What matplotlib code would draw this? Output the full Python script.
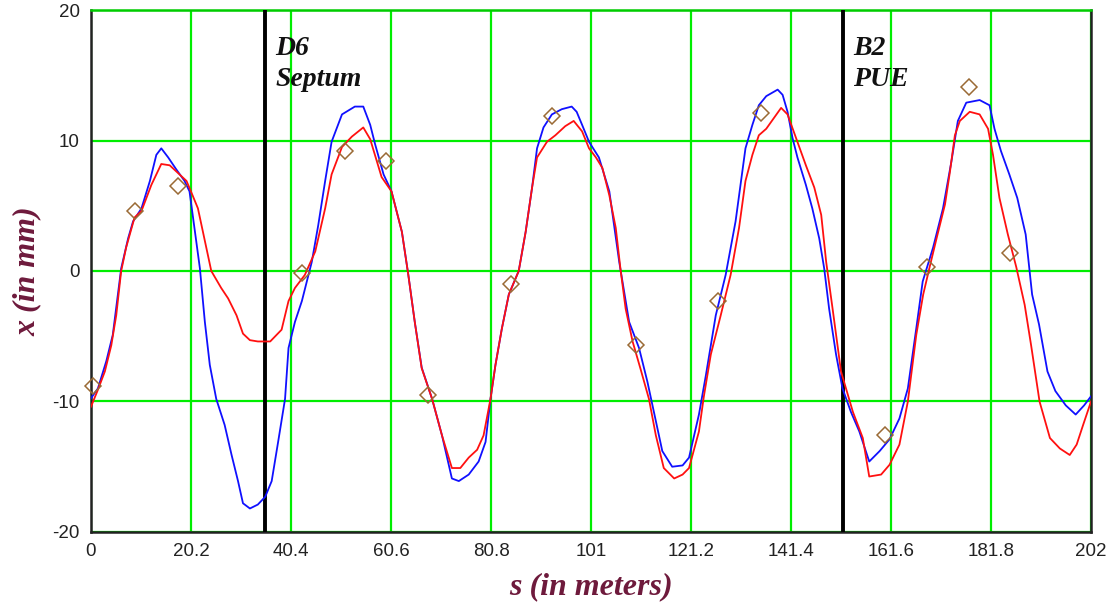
import numpy as np
import matplotlib
matplotlib.use("Agg")
import matplotlib.pyplot as plt

plt.rcParams["axes.unicode_minus"] = False

# ---- data (s in m, x in mm) ----
blue_s = [0.0, 1.4, 3.1, 4.4, 6.1, 7.5, 8.5, 10.2, 11.9, 13.2, 14.2, 15.6, 17.2, 18.9,
          19.9, 20.9, 22.0, 23.0, 24.0, 25.3, 27.0, 28.4, 29.7, 30.7, 32.1, 33.7, 35.2,
          36.5, 37.8, 39.2, 39.9, 41.2, 42.6, 44.6, 45.9, 47.3, 48.6, 50.7, 53.3, 55.0,
          56.4, 57.4, 59.1, 60.7, 62.8, 64.1, 65.4, 66.8, 68.9, 70.9, 72.9, 74.3, 76.3,
          78.3, 79.7, 80.7, 81.7, 83.0, 84.4, 86.4, 87.8, 89.1, 90.1, 91.4, 93.1, 95.1,
          97.1, 98.1, 99.2, 100.6, 102.6, 104.7, 106.7, 108.7, 110.7, 112.4, 113.7,
          115.4, 117.4, 119.5, 120.8, 122.8, 124.2, 126.2, 128.2, 130.2, 132.2, 133.6,
          134.9, 136.4, 138.7, 139.7, 140.7, 141.7, 142.7, 144.4, 145.7, 147.1, 148.1,
          149.1, 150.5, 151.8, 153.5, 155.2, 157.2, 159.3, 161.3, 163.3, 165.0, 166.7,
          168.0, 170.1, 172.1, 173.8, 175.1, 176.8, 179.5, 181.5, 182.5, 183.8, 185.5,
          187.1, 188.8, 190.1, 191.5, 193.2, 194.8, 196.9, 198.9, 200.6, 202.0]
blue_x = [-9.75, -9.0, -6.9, -4.9, 0.2, 2.5, 3.8, 4.8, 6.9, 8.9, 9.4, 8.7, 7.8, 6.9,
          6.1, 3.3, 0.2, -3.9, -7.2, -9.8, -11.8, -14.1, -16.1, -17.8, -18.2, -17.9, -17.3,
          -16.1, -13.1, -9.8, -5.9, -3.9, -2.3, 0.7, 3.5, 6.9, 9.9, 12.0, 12.6, 12.6,
          11.2, 9.7, 7.4, 6.1, 3.0, -0.3, -3.9, -7.4, -9.8, -12.6, -15.9, -16.1, -15.6,
          -14.6, -13.1, -9.8, -7.2, -4.4, -1.8, 0.0, 3.0, 6.4, 9.4, 11.0, 12.0, 12.4,
          12.6, 12.2, 11.2, 9.9, 8.7, 6.1, 0.7, -3.9, -5.9, -8.5, -10.8,
          -13.8, -15.0, -14.9, -14.3, -11.0, -8.0, -3.4, -0.3, 3.8, 9.4, 11.2,
          12.7, 13.4, 13.9, 13.5, 12.2, 10.2, 8.7, 6.6, 4.8, 2.5, 0.2,
          -2.9, -6.4, -9.0, -10.8, -12.3, -14.6, -13.8, -12.9, -11.3, -9.0, -4.4,
          -0.8, 1.8, 4.8, 8.4, 11.5, 12.9, 13.1, 12.7, 10.9, 9.2, 7.4,
          5.6, 2.8, -1.8, -4.1, -7.7, -9.2, -10.3, -11.0, -10.3, -9.6]

red_s = [0.0, 1.4, 2.8, 4.1, 5.1, 6.1, 7.1, 8.8, 10.2, 12.2, 14.2, 15.9, 17.6, 19.3,
         20.3, 21.6, 23.0, 24.3, 26.3, 27.7, 29.4, 30.7, 32.1, 33.7, 36.2, 38.5, 39.9,
         41.2, 43.2, 45.3, 47.3, 48.6, 50.7, 52.7, 55.0, 56.4, 58.7, 60.7, 62.8, 64.1,
         65.4, 66.8, 68.9, 70.9, 72.9, 74.6, 76.3, 78.0, 79.3, 80.7, 81.7, 83.0, 84.4,
         86.4, 87.8, 89.1, 90.1, 92.1, 93.8, 95.8, 97.5, 99.2, 100.6, 102.0, 103.3,
         104.7, 106.0, 107.0, 108.0, 109.4, 111.0, 112.7, 114.1, 115.7, 117.8, 119.5,
         120.8, 122.8, 123.8, 125.2, 127.2, 129.2, 130.9, 132.2, 133.6, 134.9, 136.4,
         139.4, 140.7, 142.4, 144.4, 146.1, 147.5, 148.5, 149.8, 151.5, 152.5, 153.9,
         155.9, 157.2, 159.6, 161.3, 163.3, 165.0, 166.7, 168.1, 169.4, 170.8, 172.5,
         173.5, 174.5, 175.5, 177.5, 179.5, 181.2, 182.2, 183.5, 185.2, 186.9, 188.6,
         189.9, 191.6, 193.7, 195.7, 197.7, 199.1, 200.4, 202.0]
red_x = [-10.4, -9.1, -7.7, -5.7, -3.4, 0.0, 1.8, 4.1, 4.6, 6.6, 8.2, 8.1, 7.5, 6.9,
         6.0, 4.8, 2.3, 0.0, -1.3, -2.1, -3.4, -4.8, -5.3, -5.4, -5.4, -4.5, -2.3,
         -1.3, -0.3, 1.5, 4.8, 7.4, 9.5, 10.3, 11.0, 10.1, 7.2, 6.1, 3.0, -0.3,
         -3.9, -7.45, -9.8, -12.6, -15.1, -15.1, -14.3, -13.7, -12.6, -9.8, -7.2, -4.4, -1.8,
         0.0, 3.0, 6.4, 8.7, 9.9, 10.4, 11.1, 11.5, 10.7, 9.4, 8.7, 7.9,
         5.8, 3.3, 0.0, -2.9, -5.4, -7.5, -9.8, -12.6, -15.1, -15.9, -15.6,
         -15.1, -12.3, -9.6, -6.4, -3.4, -0.3, 3.3, 6.9, 8.9, 10.4, 10.9,
         12.5, 12.0, 10.2, 8.1, 6.4, 4.3, 0.7, -2.9, -7.7, -9.0, -10.8,
         -12.8, -15.75, -15.6, -14.85, -13.3, -10.0, -4.9, -1.8, 0.3, 2.5, 5.1,
         7.6, 10.4, 11.5, 12.2, 12.0, 10.9, 8.9, 5.6, 2.8, 0.3, -2.6,
         -5.7, -10.0, -12.8, -13.6, -14.1, -13.3, -11.8, -10.0]

bpm_s = [0.5, 8.9, 17.5, 42.6, 51.3, 59.6, 68.0, 84.8, 93.1, 110.1, 126.7, 135.4,
         160.3, 168.8, 177.4, 185.7]
bpm_x = [-8.8, 4.6, 6.5, -0.15, 9.2, 8.4, -9.5, -1.0, 11.9, -5.7, -2.3, 12.1,
         -12.6, 0.27, 14.1, 1.4]

marker_s = [35.2, 152.0]
marker_labels = ["D6\nSeptum", "B2\nPUE"]

xticks = [0, 20.2, 40.4, 60.6, 80.8, 101, 121.2, 141.4, 161.6, 181.8, 202]
xtick_labels = ["0", "20.2", "40.4", "60.6", "80.8", "101", "121.2", "141.4",
                "161.6", "181.8", "202"]
yticks = [-20, -10, 0, 10, 20]

# ---- figure ----
fig = plt.figure(figsize=(11.15, 6.07), dpi=100)
ax = fig.add_axes([0.0816, 0.1236, 0.8969, 0.8599])

ax.set_xlim(0, 202)
ax.set_ylim(-20, 20)
ax.set_xticks(xticks)
ax.set_xticklabels(xtick_labels)
ax.set_yticks(yticks)
ax.grid(True, color="#00ee00", linewidth=1.6, zorder=0)
ax.set_axisbelow(True)
ax.tick_params(length=0, pad=8, labelsize=13.5)
for lab in ax.get_xticklabels() + ax.get_yticklabels():
    lab.set_fontfamily("Liberation Sans")
    lab.set_color("#222222")
for sp in ax.spines.values():
    sp.set_color("#222222")
    sp.set_linewidth(1.8)
ax.spines["top"].set_color("#00cc00")

for s, lab in zip(marker_s, marker_labels):
    ax.axvline(s, color="black", linewidth=2.8, zorder=3)
    ax.text(s + 2.0, 18.0, lab, ha="left", va="top", fontsize=20,
            family="Liberation Serif", weight="bold", style="italic",
            color="#111111", linespacing=1.3, zorder=4)

ax.plot(blue_s, blue_x, color="#1010ff", linewidth=1.3, zorder=4)
ax.plot(red_s, red_x, color="#ff1010", linewidth=1.3, zorder=5)
ax.plot(bpm_s, bpm_x, linestyle="none", marker="D", markersize=8,
        markerfacecolor="none", markeredgecolor="#9a6a35", markeredgewidth=1.1,
        zorder=6, clip_on=False)

lab_kw = dict(family="Liberation Serif", weight="bold", style="italic",
              color="#6e1a3c", fontsize=23)
ax.set_xlabel("s (in meters)", labelpad=9, **lab_kw)
ax.set_ylabel("x (in mm)", labelpad=8, **lab_kw)

fig.savefig("out.png", dpi=100)
